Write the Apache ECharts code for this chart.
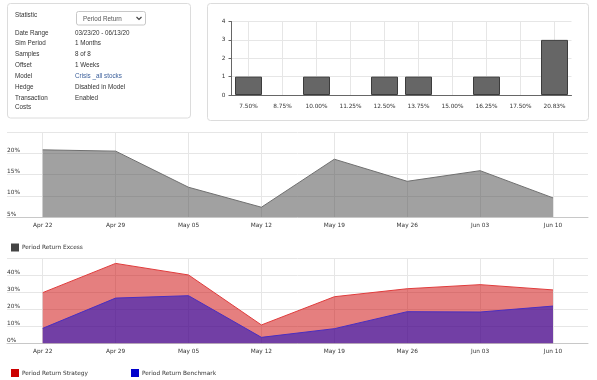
<!DOCTYPE html>
<html>
<head>
<meta charset="utf-8">
<script src="https://cdn.jsdelivr.net/npm/echarts@6/dist/echarts.min.js"></script>
<style>
html,body{margin:0;padding:0;background:#fff;}
#c{width:597px;height:380px;}
</style>
</head>
<body>
<div id="c"></div>
<script>
// ---- data ----
const infoLabels = ['Statistic', 'Date Range', 'Sim Period', 'Samples', 'Offset', 'Model', 'Hedge', 'Transaction', 'Costs'];
const infoValues = ['Period Return', '03/23/20 - 06/13/20', '1 Months', '8 of 8', '1 Weeks', 'Crisis _all stocks', 'Disabled in Model', 'Enabled', ''];
const barCats = ['7.50%', '8.75%', '10.00%', '11.25%', '12.50%', '13.75%', '15.00%', '16.25%', '17.50%', '20.83%'];
const barCounts = [1, 0, 1, 0, 1, 1, 0, 1, 0, 3];
const dates = ['Apr 22', 'Apr 29', 'May 05', 'May 12', 'May 19', 'May 26', 'Jun 03', 'Jun 10'];
const excess = [20.8, 20.5, 12.0, 7.3, 18.6, 13.4, 15.9, 9.5];
const strategy = [29.8, 47.0, 40.2, 10.8, 27.4, 32.1, 34.5, 31.4];
const benchmark = [8.8, 26.6, 28.0, 3.5, 8.6, 18.6, 18.4, 21.9];
const excessTicks = [5, 10, 15, 20];
const returnTicks = [0, 10, 20, 30, 40];
const legendExcess = ['Period Return Excess'];
const legendReturns = ['Period Return Strategy', 'Period Return Benchmark'];

// ---- chart ----
const FONT = 'DejaVu Sans';
const FS = 5.8;
const chart = echarts.init(document.getElementById('c'), null, {renderer: 'canvas'});
const idx = dates.map((d, i) => i);
const barIdx = barCats.map((d, i) => i);
const pairs = arr => arr.map((v, i) => [i, v]);

const rowY = [15, 33, 43.7, 54.7, 65.3, 76, 87.3, 98.3, 107];
const graphics = [
  {type: 'rect', z: -10, shape: {x: 7.5, y: 3.5, width: 183, height: 114.5, r: 3}, style: {fill: '#fff', stroke: '#dcdcdc', lineWidth: 1}},
  {type: 'rect', z: -10, shape: {x: 207.5, y: 3.5, width: 381, height: 117, r: 3}, style: {fill: '#fff', stroke: '#dcdcdc', lineWidth: 1}},
  // dropdown
  {type: 'rect', z: 5, shape: {x: 76.5, y: 11.5, width: 69, height: 13.5, r: 2}, style: {fill: '#fff', stroke: '#c8c8c8', lineWidth: 1}},
  {type: 'polyline', z: 6, shape: {points: [[136.5, 17], [139, 19.5], [141.5, 17]]}, style: {stroke: '#444', lineWidth: 1.2, fill: null}}
];
infoLabels.forEach((t, i) => {
  graphics.push({type: 'text', z: 6, x: 15, y: rowY[i], style: {text: t, fontFamily: 'Liberation Sans', fontSize: 6.3, fill: '#333', verticalAlign: 'middle'}});
});
infoValues.forEach((t, i) => {
  if (!t) return;
  if (i === 0) {
    graphics.push({type: 'text', z: 6, x: 83, y: 19, style: {text: t, fontFamily: 'Liberation Sans', fontSize: 6.3, fill: '#555', verticalAlign: 'middle'}});
  } else {
    graphics.push({type: 'text', z: 6, x: 75, y: rowY[i], style: {text: t, fontFamily: 'Liberation Sans', fontSize: 6.3, fill: i === 5 ? '#3a5e9a' : '#333', verticalAlign: 'middle'}});
  }
});

const lineXAxis = (gi) => ({
  type: 'value', gridIndex: gi, min: -0.49, max: 7.48,
  axisLine: {show: true, onZero: false, lineStyle: {color: '#c8c8c8', width: 1}},
  axisTick: {show: false, customValues: idx},
  axisLabel: {customValues: idx, formatter: v => dates[Math.round(v)] || '', fontFamily: FONT, fontSize: FS, color: '#333', margin: 5},
  splitLine: {show: true, lineStyle: {color: '#e6e6e6', width: 1}}
});
const lineYAxis = (gi, min, max, interval, shown) => ({
  type: 'value', gridIndex: gi, min: min, max: max, interval: interval,
  axisLine: {show: false, onZero: false}, axisTick: {show: false},
  axisLabel: {inside: true, margin: 0, verticalAlign: 'bottom', fontFamily: FONT, fontSize: FS, color: '#333',
    formatter: v => shown.indexOf(v) >= 0 ? v + '%' : ''},
  splitLine: {show: true, lineStyle: {color: '#e6e6e6', width: 1}}
});

const option = {
  animation: false,
  backgroundColor: '#fff',
  textStyle: {fontFamily: FONT},
  graphic: graphics,
  grid: [
    {left: 231.5, top: 21.5, width: 340, height: 73.5},
    {left: 7, top: 132, width: 581, height: 85},
    {left: 7, top: 258.3, width: 581, height: 85}
  ],
  legend: [
    {data: legendExcess, left: 6, top: 238.5, itemWidth: 8, itemHeight: 8, icon: 'rect', selectedMode: false,
      textStyle: {fontFamily: FONT, fontSize: FS, color: '#333', padding: [0, 0, 0, -2]}},
    {data: [legendReturns[0]], left: 6, top: 364, itemWidth: 8, itemHeight: 8, icon: 'rect', selectedMode: false,
      textStyle: {fontFamily: FONT, fontSize: FS, color: '#333', padding: [0, 0, 0, -2]}},
    {data: [legendReturns[1]], left: 126, top: 364, itemWidth: 8, itemHeight: 8, icon: 'rect', selectedMode: false,
      textStyle: {fontFamily: FONT, fontSize: FS, color: '#333', padding: [0, 0, 0, -2]}}
  ],
  xAxis: [
    {type: 'category', gridIndex: 0, data: barCats, boundaryGap: true,
      axisLine: {show: true, onZero: false, lineStyle: {color: '#666', width: 1}},
      axisTick: {show: false},
      axisLabel: {fontFamily: FONT, fontSize: FS, color: '#333', margin: 8, interval: 0},
      splitLine: {show: false}},
    lineXAxis(1),
    lineXAxis(2),
    // vertical grid lines through bar centres
    {type: 'value', gridIndex: 0, min: -0.5, max: 9.5,
      axisLine: {show: false, onZero: false}, axisTick: {show: false, customValues: barIdx},
      axisLabel: {show: false, customValues: barIdx},
      splitLine: {show: true, lineStyle: {color: '#e6e6e6', width: 1}}}
  ],
  yAxis: [
    {type: 'value', gridIndex: 0, min: 0, max: 4, interval: 1,
      axisLine: {show: true, onZero: false, lineStyle: {color: '#666', width: 1}},
      axisTick: {show: true, length: 3, lineStyle: {color: '#666'}},
      axisLabel: {fontFamily: FONT, fontSize: FS, color: '#333', margin: 6},
      splitLine: {show: true, lineStyle: {color: '#e6e6e6'}}},
    lineYAxis(1, 5, 25, 5, excessTicks),
    lineYAxis(2, 0, 50, 10, returnTicks)
  ],
  series: [
    {type: 'bar', name: 'Count', xAxisIndex: 0, yAxisIndex: 0, barWidth: 27,
      data: barCounts.map(v => v === 0 ? {value: v, itemStyle: {borderWidth: 0, opacity: 0}} : v),
      itemStyle: {color: '#666', borderColor: '#3c3c3c', borderWidth: 1}},
    {type: 'line', name: legendExcess[0], xAxisIndex: 1, yAxisIndex: 1, data: pairs(excess),
      symbol: 'none', color: '#444',
      lineStyle: {color: '#707070', width: 1},
      areaStyle: {color: '#444', opacity: 0.5, origin: 'start'}},
    {type: 'line', name: legendReturns[0], xAxisIndex: 2, yAxisIndex: 2, data: pairs(strategy),
      symbol: 'none', color: '#cc0000',
      lineStyle: {color: '#e03c3c', width: 1},
      areaStyle: {color: '#cc0000', opacity: 0.5, origin: 'start'}},
    {type: 'line', name: legendReturns[1], xAxisIndex: 2, yAxisIndex: 2, data: pairs(benchmark),
      symbol: 'none', color: '#0000cc',
      lineStyle: {color: '#4a2ec0', width: 1},
      areaStyle: {color: '#0000cc', opacity: 0.5, origin: 'start'}}
  ]
};
chart.setOption(option);
</script>
</body>
</html>
